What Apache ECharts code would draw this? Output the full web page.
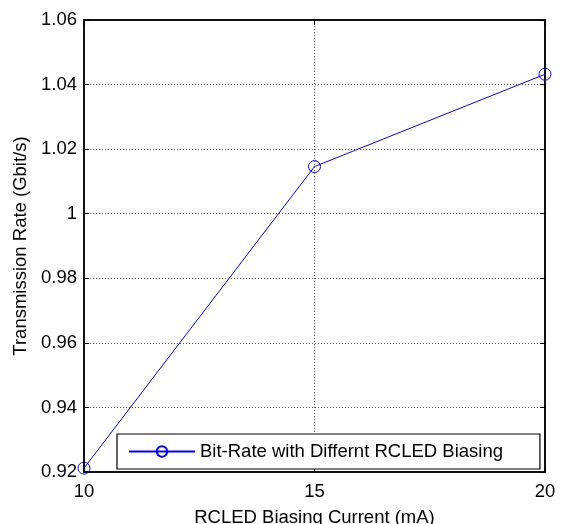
<!DOCTYPE html>
<html><head><meta charset="utf-8">
<script src="https://cdn.jsdelivr.net/npm/echarts@6/dist/echarts.min.js"></script>
<style>html,body{margin:0;padding:0;background:#fff}#c{width:562px;height:524px}</style>
</head><body><div id="c"></div>
<script>
var xValues = [10, 15, 20];
var rateValues = [0.9212, 1.0146, 1.0432];
var seriesName = 'Bit-Rate with Differnt RCLED Biasing';
var xTitle = 'RCLED Biasing Current (mA)';
var yTitle = 'Transmission Rate (Gbit/s)';

var chart = echarts.init(document.getElementById('c'));
var font = 'Liberation Sans, Arial, sans-serif';
var fs = 18.5;
var gridLine = {show: true, lineStyle: {color: '#555', type: [1, 2], width: 1}};
chart.setOption({
  animation: false,
  grid: {left: 84, top: 20, right: 17, bottom: 52, show: true, borderColor: '#000', borderWidth: 1.5,
    containLabel: false, outerBoundsMode: 'none'},
  legend: {
    data: [{name: seriesName}],
    left: 117, top: 434,
    padding: [8, 37, 8, 11],
    borderColor: '#000', borderWidth: 1.2, backgroundColor: '#fff',
    itemWidth: 66, itemHeight: 13, itemGap: 0,
    textStyle: {fontFamily: font, fontSize: fs, color: '#000'}
  },
  xAxis: [{
    type: 'value', min: 10, max: 20, interval: 5,
    name: xTitle, nameLocation: 'middle', nameGap: 36,
    nameTextStyle: {fontFamily: font, fontSize: fs, color: '#000'},
    axisLine: {show: true, lineStyle: {color: '#000', width: 1.5}},
    axisTick: {show: true, inside: true, length: 5, lineStyle: {color: '#000'}},
    axisLabel: {fontFamily: font, fontSize: fs, color: '#000', margin: 10},
    splitLine: gridLine
  }, {
    type: 'value', min: 10, max: 20, interval: 5, position: 'top',
    axisLine: {show: true, lineStyle: {color: '#000', width: 1.5}},
    axisTick: {show: true, inside: true, length: 5, lineStyle: {color: '#000'}},
    axisLabel: {show: false}, splitLine: {show: false}
  }],
  yAxis: [{
    type: 'value', min: 0.92, max: 1.06, interval: 0.02,
    name: yTitle, nameLocation: 'middle', nameGap: 54,
    nameTextStyle: {fontFamily: font, fontSize: fs, color: '#000'},
    axisLine: {show: true, lineStyle: {color: '#000', width: 1.5}},
    axisTick: {show: true, inside: true, length: 5, lineStyle: {color: '#000'}},
    axisLabel: {fontFamily: font, fontSize: fs, color: '#000', margin: 7,
      formatter: function (v) { return String(Math.round(v * 100) / 100); }},
    splitLine: gridLine
  }, {
    type: 'value', min: 0.92, max: 1.06, interval: 0.02, position: 'right',
    axisLine: {show: true, lineStyle: {color: '#000', width: 1.5}},
    axisTick: {show: true, inside: true, length: 5, lineStyle: {color: '#000'}},
    axisLabel: {show: false}, splitLine: {show: false}
  }],
  series: [{
    name: seriesName, type: 'line',
    data: xValues.map(function (x, i) { return [x, rateValues[i]]; }),
    symbol: 'circle', symbolSize: 12,
    lineStyle: {color: '#0000ff', width: 1},
    itemStyle: {color: 'rgba(0,0,0,0)', borderColor: '#0000ff', borderWidth: 1},
    z: 3
  }]
});
</script></body></html>
